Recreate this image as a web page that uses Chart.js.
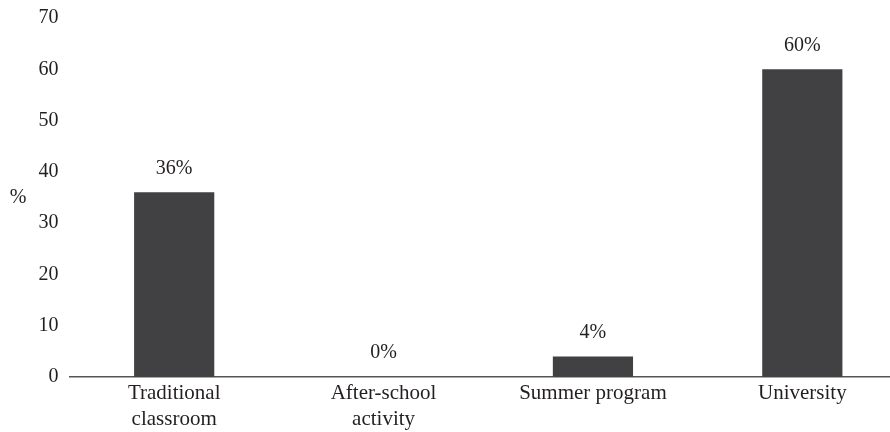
<!DOCTYPE html>
<html><head><meta charset="utf-8">
<script src="https://cdn.jsdelivr.net/npm/chart.js@4"></script>
<style>html,body{margin:0;padding:0;overflow:hidden;background:#fff}#wrap{width:907px;height:437px;margin-top:-5px}</style>
</head><body><div id="wrap"><canvas id="c"></canvas></div>
<script>
const categories = [["Traditional","classroom"],["After-school","activity"],"Summer program","University"];
const values = [36, 0, 4, 60];
const valueLabels = ["36%","0%","4%","60%"];
const yTicks = [0,10,20,30,40,50,60,70];
const yTitle = "%";
const FONT = "'Liberation Serif', 'DejaVu Serif', serif";
const TEXT = "#231f20";

const labelPlugin = {
  id: 'vlabels',
  afterDatasetsDraw(chart) {
    const ctx = chart.ctx;
    const meta = chart.getDatasetMeta(0);
    ctx.save();
    ctx.font = "20px " + FONT;
    ctx.fillStyle = TEXT;
    ctx.textAlign = "center";
    ctx.textBaseline = "middle";
    meta.data.forEach((bar, i) => {
      ctx.fillText(valueLabels[i], bar.x, bar.y - 24);
    });
    const ca = chart.chartArea;
    ctx.fillText(yTitle, 18, (ca.top + ca.bottom) / 2);
    ctx.restore();
  }
};

new Chart(document.getElementById('c'), {
  type: 'bar',
  data: { labels: categories, datasets: [{ data: values, backgroundColor: '#414143', barPercentage: 0.383, categoryPercentage: 1 }] },
  options: {
    responsive: true, maintainAspectRatio: false, animation: false,
    layout: { padding: { top: 0, right: 0, bottom: 0, left: 0 } },
    plugins: { legend: { display: false }, tooltip: { enabled: false } },
    scales: {
      x: {
        grid: { display: false, drawTicks: false },
        border: { display: true, color: '#555', width: 1.5 },
        ticks: { color: TEXT, font: { family: FONT, size: 21, lineHeight: 1.25 }, padding: 3, maxRotation: 0, autoSkip: false },
        afterFit(s) { s.height = 55; }
      },
      y: {
        min: 0, max: 70,
        afterBuildTicks(s) { s.ticks = yTicks.map(v => ({ value: v })); },
        grid: { display: false, drawTicks: false },
        border: { display: false },
        ticks: { color: TEXT, font: { family: FONT, size: 20 }, padding: 11 },
        afterFit(s) { s.width = 69.5; }
      }
    }
  },
  plugins: [labelPlugin]
});
</script></body></html>
